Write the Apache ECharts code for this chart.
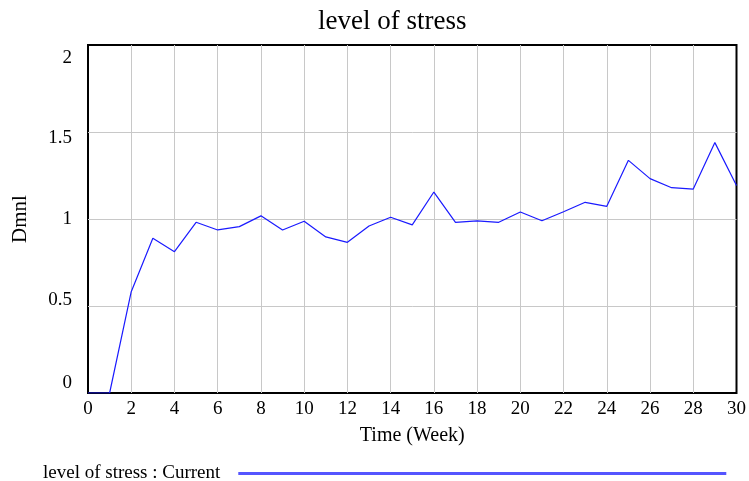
<!DOCTYPE html>
<html>
<head>
<meta charset="utf-8">
<script src="https://cdn.jsdelivr.net/npm/echarts@6/dist/echarts.min.js"></script>
<style>
  html, body { margin: 0; padding: 0; background: #fff; }
  #chart { width: 749px; height: 481px; }
</style>
</head>
<body>
<div id="chart"></div>
<script>
// weeks 0..30
var weeks = [0, 1, 2, 3, 4, 5, 6, 7, 8, 9, 10, 11, 12, 13, 14, 15, 16, 17, 18, 19, 20,
             21, 22, 23, 24, 25, 26, 27, 28, 29, 30];
var stress = [0, 0, 0.582, 0.889, 0.812, 0.981, 0.937, 0.956, 1.018, 0.937, 0.987,
              0.897, 0.866, 0.960, 1.010, 0.966, 1.155, 0.981, 0.989, 0.981, 1.040,
              0.990, 1.042, 1.096, 1.073, 1.337, 1.232, 1.180, 1.172, 1.439, 1.192];
var yTicks = [0, 0.5, 1, 1.5, 2];
var seriesName = 'level of stress : Current';

var serif = '"Liberation Serif", "Times New Roman", serif';

var points = weeks.map(function (w, i) { return [w, stress[i]]; });

// the y labels in the original sit a little off their grid lines
var labelStyles = {
    l0: { padding: [0, 0, 20, 0] },
    l1: { padding: [0, 0, 12, 0] },
    l2: { padding: [0, 0, 0, 0] },
    l3: { padding: [12, 0, 0, 0] },
    l4: { padding: [26, 0, 0, 0] }
};
for (var k in labelStyles) {
    labelStyles[k].fontFamily = serif;
    labelStyles[k].fontSize = 19;
    labelStyles[k].color = '#000';
}

var myChart = echarts.init(document.getElementById('chart'));
var option = {
    animation: false,
    title: {
        text: 'level of stress',
        left: 313,
        top: 3,
        textStyle: {
            fontFamily: serif,
            fontSize: 27,
            fontWeight: 'normal',
            color: '#000'
        }
    },
    grid: {
        left: 88,
        right: 11,
        top: 45,
        bottom: 88,
        show: true,
        borderColor: '#000',
        borderWidth: 2,
        containLabel: false
    },
    legend: {
        left: 38,
        top: 459,
        align: 'right',
        icon: 'rect',
        itemWidth: 488,
        itemHeight: 3,
        textStyle: {
            fontFamily: serif,
            fontSize: 19,
            color: '#000',
            padding: [0, 13, 0, 0]
        },
        data: [{ name: seriesName, itemStyle: { color: '#5555ff' } }]
    },
    xAxis: {
        type: 'value',
        min: 0,
        max: 30,
        interval: 2,
        name: 'Time (Week)',
        nameLocation: 'middle',
        nameGap: 33,
        nameTextStyle: { fontFamily: serif, fontSize: 20, color: '#000' },
        axisLine: { show: false },
        axisTick: { show: false },
        axisLabel: { margin: 7, fontFamily: serif, fontSize: 19, color: '#000' },
        splitLine: {
            show: true,
            showMinLine: false,
            showMaxLine: false,
            lineStyle: { color: '#c8c8c8', width: 1 }
        }
    },
    yAxis: {
        type: 'value',
        min: 0,
        max: 2,
        interval: 0.5,
        name: 'Dmnl',
        nameLocation: 'middle',
        nameGap: 57,
        nameRotate: 90,
        nameTextStyle: { fontFamily: serif, fontSize: 21, color: '#000' },
        axisLine: { show: false },
        axisTick: { show: false },
        axisLabel: {
            margin: 16,
            fontFamily: serif,
            fontSize: 19,
            color: '#000',
            formatter: function (v) {
                var i = yTicks.indexOf(v);
                return i >= 0 ? '{l' + i + '|' + v + '}' : '';
            },
            rich: labelStyles
        },
        splitLine: {
            show: true,
            showMinLine: false,
            showMaxLine: false,
            lineStyle: { color: '#c8c8c8', width: 1 }
        }
    },
    series: [{
        name: seriesName,
        type: 'line',
        data: points,
        showSymbol: false,
        lineStyle: { color: '#1a1aff', width: 1.2 },
        itemStyle: { color: '#1a1aff' }
    }]
};
myChart.setOption(option);
</script>
</body>
</html>
